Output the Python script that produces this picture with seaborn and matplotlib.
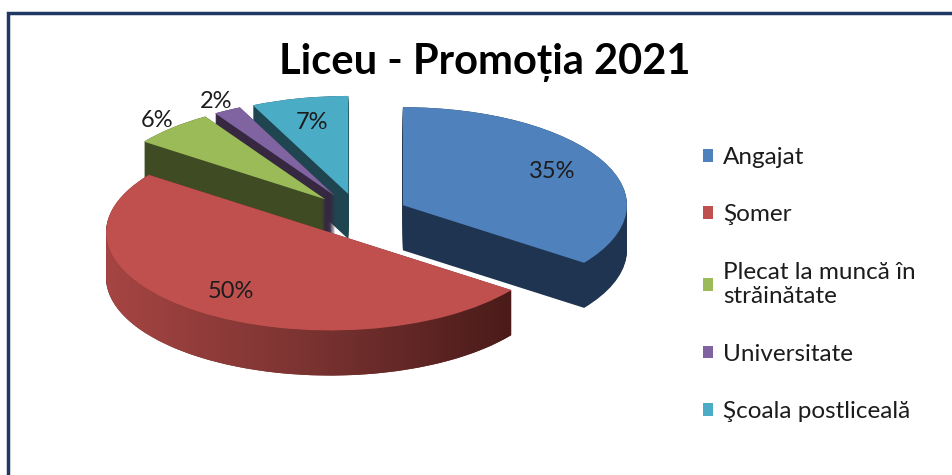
import numpy as np
import matplotlib
matplotlib.use("Agg")
import matplotlib.pyplot as plt
from matplotlib.patches import Rectangle, Polygon
from matplotlib.colors import LinearSegmentedColormap
import seaborn as sns

# data
categories = ["Angajat", "Şomer", "Plecat la muncă în\nstrăinătate",
              "Universitate", "Şcoala postliceală"]
shares = [35, 50, 6, 2, 7]
title = "Liceu - Promoția 2021"

# Excel 2007 palette: top faces and darker side walls
top_colors = ["#4F81BD", "#C0504D", "#9BBB59", "#8064A2", "#4BACC6"]
side_colors = ["#1F3450", "#6A2B29", "#3F4B23", "#352840", "#1E4550"]
pct_dist = [0.75, 0.75, 1.1, 1.1, 0.75]

sns.set_theme(style="white")
plt.rcParams["font.family"] = ["Lato", "DejaVu Sans"]

W, H = 953, 475
fig = plt.figure(figsize=(W / 100, H / 100), dpi=100)
ax = fig.add_axes([0, 0, 1, 1])

# tilted pie: different px per unit along x and y
rx, ry = 224, 98
cx, cy = 359, 215
depth = 0.46
explode = [0.22] * len(shares)

# side walls: stack darker copies of the pie downwards
for d in np.linspace(depth, 0.0, 46):
    layer, _ = ax.pie(shares, explode=explode, startangle=90, counterclock=False,
                      colors=side_colors, center=(0, -d), frame=True,
                      wedgeprops=dict(linewidth=0))

# shaded front wall of the big red slice (light left -> dark right)
w = layer[1]
a0 = w.theta1 % 360
a1 = a0 + (w.theta2 - w.theta1)
t = np.deg2rad(np.linspace(max(a0, 180), min(a1, 360), 150))
xs = w.center[0] + w.r * np.cos(t)
ys = w.center[1] + w.r * np.sin(t)
wall = np.column_stack([np.r_[xs, xs[::-1]], np.r_[ys, ys[::-1] - depth]])
clip = Polygon(wall, closed=True, facecolor="none", edgecolor="none")
ax.add_patch(clip)
wall_cmap = LinearSegmentedColormap.from_list("wall", ["#A64543", "#7A3331", "#4A1B1A"])
im = ax.imshow(np.linspace(0, 1, 256)[None, :], cmap=wall_cmap, aspect="auto",
               extent=(wall[:, 0].min(), wall[:, 0].max(),
                       wall[:, 1].min(), wall[:, 1].max()),
               interpolation="bilinear", zorder=1)
im.set_clip_path(clip)

wedges, _ = ax.pie(shares, explode=explode, startangle=90, counterclock=False,
                   colors=top_colors, frame=True, wedgeprops=dict(linewidth=0))

# percentage labels
for w, s, r in zip(wedges, shares, pct_dist):
    th = np.deg2rad((w.theta1 + w.theta2) / 2)
    x0, y0 = w.center
    ax.text(x0 + r * np.cos(th), y0 + r * np.sin(th), f"{s}%",
            ha="center", va="center", fontsize=17, color="#1c1c1c")

ax.set_aspect("auto")
ax.set_xlim(-cx / rx, (W - cx) / rx)
ax.set_ylim(-(H - cy) / ry, cy / ry)
ax.axis("off")

ax.legend(wedges, categories, loc="upper left",
          bbox_to_anchor=(703 / W, 1 - 147 / H), bbox_transform=fig.transFigure,
          frameon=False, fontsize=17.5, handlelength=0.42, handleheight=0.42,
          handletextpad=0.42, labelspacing=1.5, borderaxespad=0, borderpad=0,
          labelcolor="#1c1c1c")

fig.text(485 / W, 1 - 62 / H, title, ha="center", va="center",
         fontsize=30, fontweight="bold", color="black")

# chart area border (only top and left edges are inside the crop)
fig.add_artist(Rectangle((8 / W, -1), 2, 2 - 13 / H, transform=fig.transFigure,
                         fill=False, edgecolor="#1F3864", lw=2.5))

fig.savefig("out.png", dpi=100)
